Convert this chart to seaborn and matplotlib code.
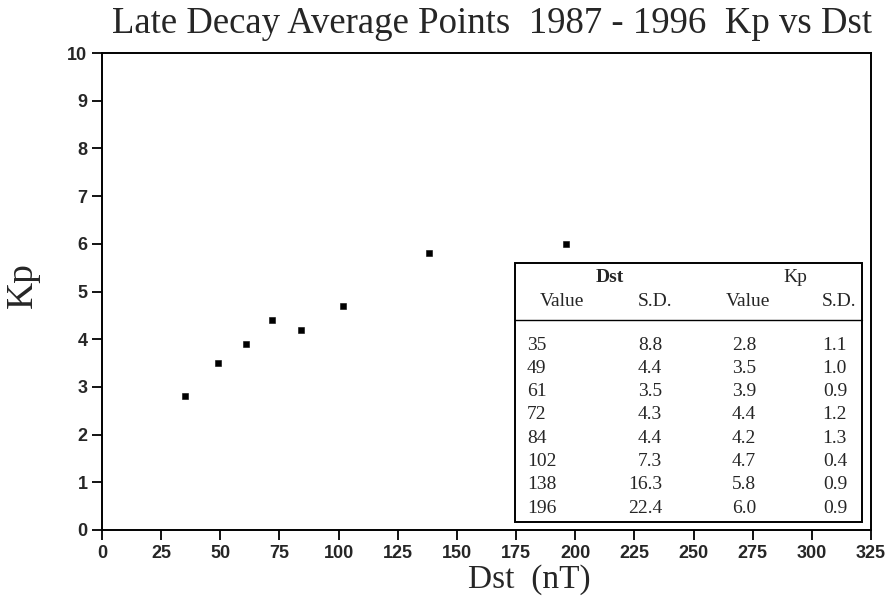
import matplotlib
matplotlib.use("Agg")
import matplotlib.pyplot as plt
import seaborn as sns
import pandas as pd
from matplotlib.patches import Rectangle

dst_value = [35, 49, 61, 72, 84, 102, 138, 196]
dst_sd = ["8.8", "4.4", "3.5", "4.3", "4.4", "7.3", "16.3", "22.4"]
kp_value = [2.8, 3.5, 3.9, 4.4, 4.2, 4.7, 5.8, 6.0]
kp_sd = ["1.1", "1.0", "0.9", "1.2", "1.3", "0.4", "0.9", "0.9"]
x_ticks = list(range(0, 326, 25))
y_ticks = list(range(0, 11))

df = pd.DataFrame({"Dst": dst_value, "Kp": kp_value})

W, H = 888.0, 598.0
def fx(px): return px / W
def fy(py): return 1 - py / H

sns.set_style("ticks")
fig = plt.figure(figsize=(8.88, 5.98), dpi=100)
L, R, T, B = 102, 871, 53, 530
ax = fig.add_axes([fx(L), fy(B), (R - L) / W, (B - T) / H])
sns.scatterplot(data=df, x="Dst", y="Kp", marker="s", s=22, color="black",
                edgecolor="black", ax=ax, zorder=3)
ax.set_xlim(0, 325)
ax.set_ylim(0, 10)
ax.set_xticks(x_ticks)
ax.set_yticks(y_ticks)
for lab in ax.get_xticklabels() + ax.get_yticklabels():
    lab.set_fontfamily("Liberation Sans")
    lab.set_fontweight("bold")
    lab.set_fontsize(13)
ax.tick_params(direction="out", length=7, width=1.3, color="black", pad=3.5)
for s in ["left", "bottom", "top", "right"]:
    ax.spines[s].set_linewidth(1.4)
    ax.spines[s].set_color("black")
ax.set_xlabel("Dst  (nT)", family="Liberation Serif", fontsize=24)
ax.xaxis.set_label_coords((529 - L) / (R - L), (B - 564) / (B - T))
ax.set_ylabel("Kp", family="Liberation Serif", fontsize=27)
ax.yaxis.set_label_coords((40 - L) / (R - L), (B - 285) / (B - T))
fig.text(fx(492.5), fy(33), "Late Decay Average Points  1987 - 1996  Kp vs Dst",
         family="Liberation Serif", fontsize=26.5, ha="center", va="baseline")

# table box
fig.patches.append(Rectangle((fx(515), fy(522)), fx(862) - fx(515), fy(263) - fy(522),
                             transform=fig.transFigure, fill=True, facecolor="white",
                             edgecolor="black", lw=1.4, zorder=5))
fig.lines.append(plt.Line2D([fx(515), fx(862)], [fy(320), fy(320)],
                            transform=fig.transFigure, color="black", lw=1.0, zorder=6))
tkw = dict(family="Liberation Serif", fontsize=14, zorder=7, va="center")
fig.text(fx(610), fy(278), "Dst", ha="center", fontweight="bold", **tkw)
fig.text(fx(795), fy(278), "Kp", ha="center", **tkw)
fig.text(fx(562), fy(301), "Value", ha="center", **tkw)
fig.text(fx(655), fy(301), "S.D.", ha="center", **tkw)
fig.text(fx(748), fy(301), "Value", ha="center", **tkw)
fig.text(fx(839), fy(301), "S.D.", ha="center", **tkw)
for i in range(len(dst_value)):
    yy = fy(345 + i * 23.3)
    fig.text(fx(527), yy, str(dst_value[i]), ha="left", **tkw)
    fig.text(fx(662), yy, dst_sd[i], ha="right", **tkw)
    fig.text(fx(756), yy, f"{kp_value[i]:.1f}", ha="right", **tkw)
    fig.text(fx(847), yy, kp_sd[i], ha="right", **tkw)

fig.savefig("out.png", dpi=100)
